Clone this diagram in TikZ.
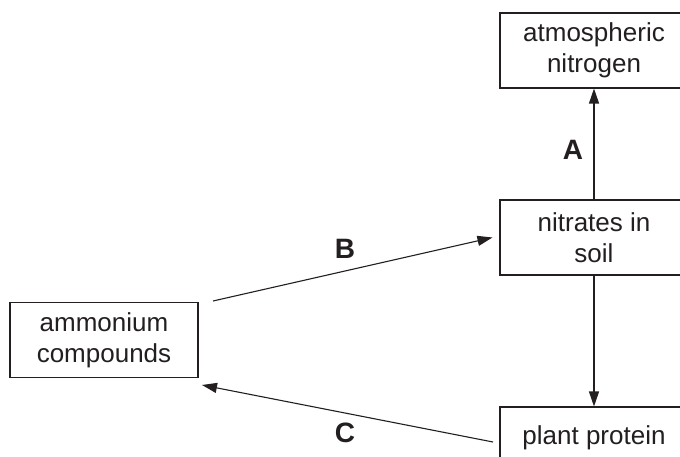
\documentclass[tikz,border=0pt]{standalone}
\usepackage{fontspec}
\setmainfont{Liberation Sans}
\usetikzlibrary{arrows.meta}
\definecolor{ink}{HTML}{231F20}
\begin{document}
\begin{tikzpicture}[x=1pt,y=-1pt,
  box/.style={draw=ink,line width=1.1pt,minimum width=188pt,minimum height=75pt,
    align=center,inner sep=0pt,font=\fontsize{26}{31}\selectfont,text=ink},
  conn/.style={draw=ink,line width=1.1pt,-{Triangle[length=15pt,width=10pt]}},
  lbl/.style={font=\fontsize{28}{32}\selectfont\bfseries,text=ink,inner sep=0pt}]
\useasboundingbox (0,0) rectangle (680,457);
\clip (0,0) rectangle (680,457);
\fill[white] (0,0) rectangle (680,457);
\node[box] (atm) at (594,50.5) {atmospheric\\nitrogen};
\node[box] (nit) at (594,237.5) {nitrates in\\soil};
\node[box,minimum height=62pt] (plant) at (594,438) {plant protein};
\node[box] (amm) at (104,340) {ammonium\\compounds};
\coordinate (bs) at (213,301);
\coordinate (cs) at (493,442);
\coordinate (ct) at (202,385);
\draw[conn] (nit.north) -- (atm.south);
\draw[conn] (nit.south) -- (plant.north);
\draw[conn] (bs) -- ([xshift=-7pt]nit.west);
\draw[conn] (cs) -- (ct);
\node[lbl] (la) at (573,150) {A};
\node[lbl] (lb) at (345,249) {B};
\node[lbl] (lc) at (345,433) {C};
\end{tikzpicture}
\end{document}
